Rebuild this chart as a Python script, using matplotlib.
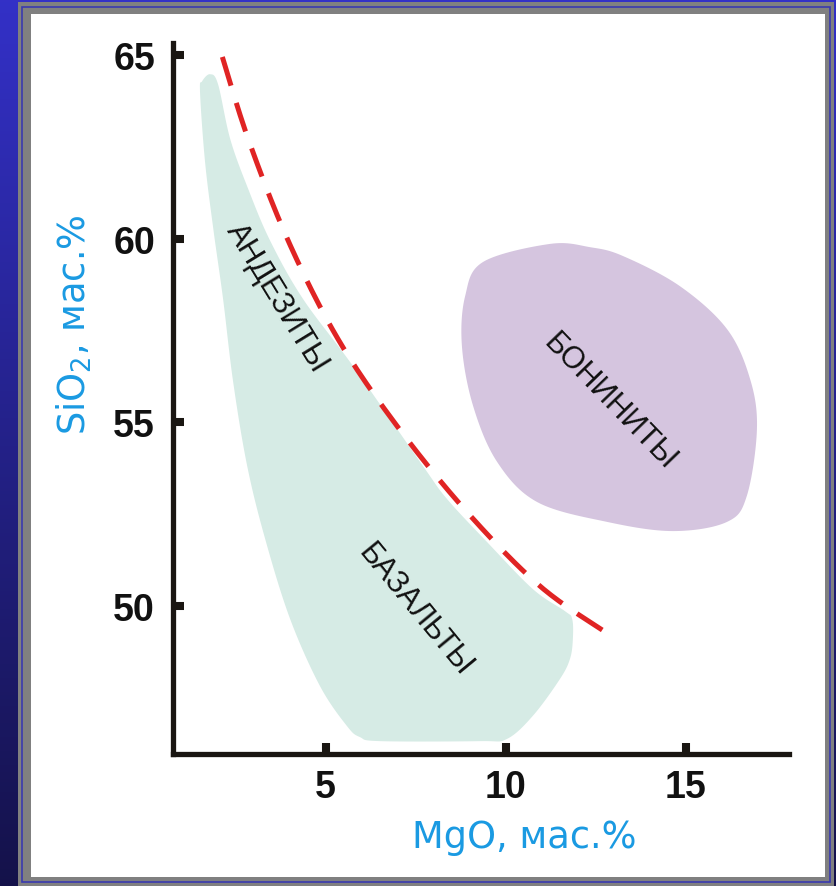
import numpy as np
import matplotlib
matplotlib.use("Agg")
import matplotlib.pyplot as plt
from matplotlib.patches import Polygon, Rectangle

# ---------------- data ----------------
x_ticks = [5, 10, 15]
y_ticks = [50, 55, 60, 65]
x_label = "MgO, мас.%"
y_label = r"SiO$_2$, мас.%"

# andesite-basalt field outline (MgO, SiO2)
green_mgo = [1.79, 2.01, 2.35, 2.85, 3.46, 4.37, 5.76, 7.70, 8.37, 9.48,
             10.75, 11.64, 11.84, 11.86, 11.78, 11.50, 10.75, 10.03, 9.28, 6.51, 5.95,
             5.59, 4.84, 4.01, 3.32, 2.82, 2.43, 2.15, 1.88, 1.65, 1.51, 1.57]
green_sio2 = [64.48, 64.21, 62.71, 61.35, 59.94, 58.36, 56.53, 53.81, 52.91,
              51.74, 50.46, 49.86, 49.65, 49.10, 48.56, 48.01, 47.01, 46.38, 46.32, 46.32,
              46.43, 46.73, 47.82, 49.65, 51.82, 53.81, 56.10, 58.36, 60.26, 62.09,
              64.00, 64.29]

# boninite field outline
purple_mgo = [11.23, 12.34, 13.25, 14.83, 16.14, 16.78, 16.97, 16.69, 16.14, 14.64, 12.81,
              10.87, 9.76, 9.09, 8.78, 8.87, 9.37]
purple_sio2 = [59.86, 59.77, 59.53, 58.71, 57.54, 56.18, 54.82, 53.00, 52.29, 52.04, 52.29,
               52.83, 53.92, 55.45, 57.08, 58.44, 59.37]

# dividing dashed line
line_mgo = [2.13, 2.85, 3.96, 5.34, 6.98, 8.92, 10.95, 12.84]
line_sio2 = [64.95, 62.71, 59.94, 57.27, 54.90, 52.56, 50.54, 49.24]

# field labels: text, MgO, SiO2, rotation
field_names = ["АНДЕЗИТЫ", "БАЗАЛЬТЫ", "БОНИНИТЫ"]
field_mgo = [3.65, 7.48, 12.89]
field_sio2 = [58.41, 49.92, 55.58]
field_rot = [-58.5, -50.5, -46.0]


def catmull(x, y, closed, n=16):
    P = np.column_stack([x, y]).astype(float)
    if closed:
        P = np.vstack([P[-1], P, P[0], P[1]])
    else:
        P = np.vstack([P[0], P, P[-1]])
    t = np.linspace(0, 1, n, endpoint=False)[:, None]
    out = []
    for i in range(1, len(P) - 2):
        p0, p1, p2, p3 = P[i - 1], P[i], P[i + 1], P[i + 2]
        seg = 0.5 * ((2 * p1) + (-p0 + p2) * t + (2 * p0 - 5 * p1 + 4 * p2 - p3) * t ** 2
                     + (-p0 + 3 * p1 - 3 * p2 + p3) * t ** 3)
        out.append(seg)
    if not closed:
        out.append(P[-2][None, :])
    return np.vstack(out)


W, H = 837, 887
fig = plt.figure(figsize=(W / 100, H / 100), dpi=100)

# background gradient + frame
bg = fig.add_axes([0, 0, 1, 1], zorder=-10)
bg.set_axis_off()
grad = np.linspace(0, 1, 256)[:, None]
top = np.array([0.20, 0.19, 0.78])
bot = np.array([0.08, 0.07, 0.29])
img = top[None, None, :] * (1 - grad[:, :, None]) + bot[None, None, :] * grad[:, :, None]
bg.imshow(img, aspect="auto", extent=[0, W, H, 0])
bg.set_xlim(0, W)
bg.set_ylim(H, 0)
bg.add_patch(Rectangle((18, 3), 816, 884, facecolor="#808080", edgecolor="none"))
bg.add_patch(Rectangle((22, 8), 808, 875, facecolor="none", edgecolor="#3a3ab0", lw=1.2))
bg.add_patch(Rectangle((31, 15), 794, 863, facecolor="white", edgecolor="none"))

ax = fig.add_axes([173 / W, 1 - 755 / H, (789 - 173) / W, (755 - 44) / H])
ax.patch.set_alpha(0)
ax.set_xlim(0.76, 17.86)
ax.set_ylim(45.97, 65.33)

g = catmull(green_mgo, green_sio2, True)
ax.add_patch(Polygon(g, closed=True, facecolor="#d6ebe5", edgecolor="none", zorder=1))
p = catmull(purple_mgo, purple_sio2, True)
ax.add_patch(Polygon(p, closed=True, facecolor="#d5c5df", edgecolor="none", zorder=1))
l = catmull(line_mgo, line_sio2, False, n=20)
ax.plot(l[:, 0], l[:, 1], color="#e02424", lw=3.6, dashes=(6.0, 3.6), zorder=2,
        solid_capstyle="butt", dash_capstyle="butt")

for name, xm, ys, r in zip(field_names, field_mgo, field_sio2, field_rot):
    ax.text(xm, ys, name, rotation=r, rotation_mode="anchor", ha="center", va="center",
            fontsize=22, family="Liberation Sans", color="#111111", zorder=3)

for s in ["top", "right"]:
    ax.spines[s].set_visible(False)
for s in ["left", "bottom"]:
    ax.spines[s].set_linewidth(3.8)
    ax.spines[s].set_color("#1a1612")
    ax.spines[s].set_capstyle("projecting")

ax.set_xticks(x_ticks)
ax.set_yticks(y_ticks)
ax.set_xticklabels([str(v) for v in x_ticks])
ax.set_yticklabels([str(v) for v in y_ticks])
ax.tick_params(direction="in", length=8, width=5.8, color="#1a1612")
ax.tick_params(axis="y", pad=13)
ax.tick_params(axis="x", pad=11)
for lab in ax.get_xticklabels() + ax.get_yticklabels():
    lab.set_fontsize(27)
    lab.set_family("Liberation Sans")
    lab.set_fontweight("bold")
    lab.set_color("#111111")

fig.text(524 / W, 1 - 848 / H, x_label, ha="center", va="baseline", fontsize=26.5,
         color="#1a9ae2", family="DejaVu Sans")
fig.text(74 / W, 1 - 325 / H, y_label, ha="center", va="center", rotation=90, fontsize=26.5,
         color="#1a9ae2", family="DejaVu Sans")

fig.savefig("out.png", dpi=100)
